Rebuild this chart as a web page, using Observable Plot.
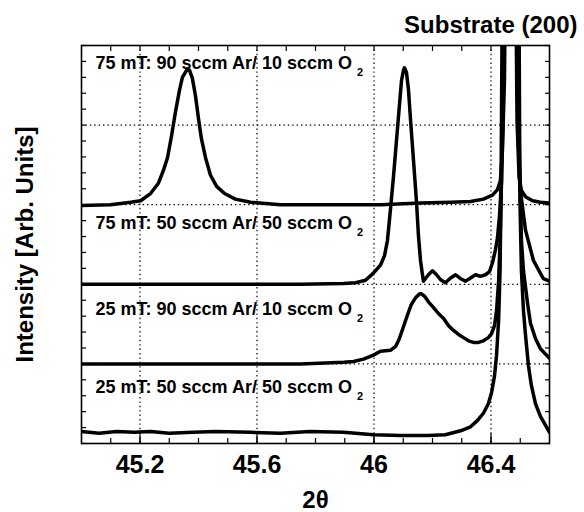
<!DOCTYPE html>
<html><head><meta charset="utf-8">
<script src="https://cdn.jsdelivr.net/npm/d3@7"></script>
<script src="https://cdn.jsdelivr.net/npm/@observablehq/plot@0.6"></script>
<style>
body{margin:0;background:#fff;}
svg{font-family:"Liberation Sans",Arial,Helvetica,sans-serif;}
</style>
</head><body><div id="chart"></div>
<script>
// Series names (annotation text; subscript "2" appended after render)
const seriesLabels = [
  "75 mT: 90 sccm Ar/ 10 sccm O",
  "75 mT: 50 sccm Ar/ 50 sccm O",
  "25 mT: 90 sccm Ar/ 10 sccm O",
  "25 mT: 50 sccm Ar/ 50 sccm O"
];
const labelX = [45.048, 45.048, 45.048, 45.048];
const labelY = [4.71, 2.70, 1.62, 0.64];

// 75 mT: 90/10
const x1 = [45.000,45.099,45.168,45.202,45.236,45.263,45.280,45.294,45.308,45.321,45.335,45.345,45.356,45.362,45.369,45.379,45.390,45.400,45.410,45.424,45.441,45.462,45.489,45.526,45.578,45.680,45.817,46.022,46.159,46.262,46.330,46.374,46.405,46.422,46.432,46.439,46.446,46.448,46.467,46.486,46.489,46.496,46.504,46.518,46.542,46.569,46.600];
const y1 = [2.99,3.00,3.03,3.05,3.14,3.27,3.43,3.59,3.87,4.16,4.44,4.60,4.67,4.70,4.69,4.59,4.36,4.08,3.83,3.59,3.37,3.23,3.14,3.07,3.03,3.00,3.00,3.00,3.02,3.03,3.04,3.07,3.12,3.19,3.30,3.68,4.56,5.31,8.0,5.31,4.06,3.34,3.18,3.10,3.05,3.03,3.02];

// 75 mT: 50/50
const x2 = [45.000,45.400,45.750,45.896,45.937,45.971,45.998,46.022,46.036,46.046,46.056,46.067,46.077,46.087,46.094,46.101,46.104,46.111,46.118,46.125,46.135,46.145,46.152,46.159,46.166,46.169,46.186,46.200,46.214,46.227,46.244,46.262,46.279,46.296,46.313,46.330,46.347,46.364,46.381,46.395,46.405,46.415,46.422,46.429,46.436,46.441,46.444,46.467,46.489,46.492,46.499,46.518,46.545,46.579,46.600];
const y2 = [2.00,2.00,2.00,2.01,2.02,2.05,2.14,2.24,2.36,2.55,2.93,3.37,3.81,4.25,4.56,4.69,4.72,4.66,4.44,4.06,3.56,3.05,2.61,2.30,2.11,2.04,2.12,2.17,2.12,2.06,2.02,2.08,2.12,2.07,2.04,2.08,2.12,2.10,2.12,2.16,2.27,2.43,2.58,2.86,3.30,4.06,5.31,8.0,5.31,4.06,3.22,2.68,2.30,2.07,2.04];

// 25 mT: 90/10
const x3 = [45.000,45.407,45.749,45.896,45.930,45.964,45.998,46.022,46.056,46.074,46.087,46.101,46.115,46.128,46.142,46.156,46.162,46.173,46.186,46.203,46.221,46.238,46.255,46.272,46.289,46.306,46.323,46.340,46.357,46.374,46.391,46.402,46.412,46.419,46.426,46.431,46.436,46.439,46.441,46.467,46.492,46.497,46.504,46.511,46.525,46.535,46.552,46.569,46.600];
const y3 = [1.00,1.00,1.00,1.02,1.03,1.06,1.11,1.16,1.17,1.22,1.32,1.47,1.62,1.75,1.83,1.88,1.88,1.85,1.78,1.71,1.63,1.57,1.48,1.42,1.37,1.33,1.29,1.27,1.27,1.29,1.33,1.38,1.48,1.67,2.04,2.55,3.30,4.31,5.31,8.0,5.31,3.68,2.55,2.17,1.76,1.51,1.32,1.19,1.07];

// 25 mT: 50/50
const x4 = [45.000,45.060,45.120,45.180,45.236,45.300,45.380,45.460,45.578,45.680,45.780,45.896,45.998,46.091,46.183,46.244,46.296,46.330,46.354,46.374,46.391,46.402,46.412,46.419,46.426,46.431,46.434,46.438,46.467,46.496,46.499,46.504,46.511,46.518,46.528,46.538,46.552,46.569,46.586,46.600];
const y4 = [0.15,0.13,0.15,0.14,0.15,0.13,0.14,0.15,0.14,0.13,0.15,0.14,0.11,0.10,0.10,0.11,0.16,0.21,0.29,0.38,0.50,0.64,0.85,1.11,1.55,2.17,3.05,5.31,8.0,5.31,3.05,2.17,1.67,1.36,0.98,0.73,0.50,0.34,0.23,0.14];

const xTickLabels = [45.2, 45.6, 46, 46.4];
const gridYValues = [1, 2, 3, 4];
const title = "Substrate (200)";
const xLabel = "2θ";
const yLabel = "Intensity [Arb. Units]";

const seriesX = [x1, x2, x3, x4];
const seriesY = [y1, y2, y3, y4];
const rows = [];
seriesX.forEach((xs, s) => xs.forEach((x, i) => rows.push({x, y: seriesY[s][i], s})));

const xMinor = d3.range(1, 16).map(i => +(45 + i * 0.1).toFixed(1));
const yMinor = d3.range(0, 26).map(i => +(i * 0.2).toFixed(1));
const blank = () => "";
const dots = {stroke: "black", strokeOpacity: 1, strokeWidth: 1.2, strokeDasharray: "1.4,3"};

const chart = Plot.plot({
  width: 584, height: 512,
  marginLeft: 81, marginRight: 35, marginTop: 45, marginBottom: 69,
  x: {domain: [45, 46.6]},
  y: {domain: [0, 5]},
  style: {background: "white", fontFamily: '"Liberation Sans",Arial,Helvetica,sans-serif', color: "black"},
  marks: [
    Plot.gridX(xTickLabels, dots),
    Plot.gridY(gridYValues, dots),
    Plot.axisX(xMinor, {anchor: "bottom", tickSize: 5, dy: -5, tickFormat: blank, label: null, strokeWidth: 1.2}),
    Plot.axisX(xTickLabels, {anchor: "bottom", tickSize: 10, dy: -10, tickFormat: blank, label: null, strokeWidth: 1.2}),
    Plot.axisX(xMinor, {anchor: "top", tickSize: 5, dy: 5, tickFormat: blank, label: null, strokeWidth: 1.2}),
    Plot.axisY(yMinor, {anchor: "left", tickSize: 5, dx: 5, tickFormat: blank, label: null, strokeWidth: 1.2}),
    Plot.axisY(yMinor, {anchor: "right", tickSize: 5, dx: -5, tickFormat: blank, label: null, strokeWidth: 1.2}),
    Plot.axisX(xTickLabels, {anchor: "bottom", tickSize: 0, tickPadding: 12, label: null, fontSize: 25, fontWeight: "bold", tickFormat: d => String(d)}),
    Plot.line(rows, {x: "x", y: "y", z: "s", stroke: "black", strokeWidth: 3.5, strokeLinejoin: "round", clip: true}),
    Plot.frame({stroke: "black", strokeWidth: 1.6}),
    Plot.text(seriesLabels, {x: (d, i) => labelX[i], y: (d, i) => labelY[i], text: d => d, textAnchor: "start", lineAnchor: "bottom", fontSize: 18, fontWeight: "bold", fill: "black"}),
    Plot.text([title], {frameAnchor: "top-right", dx: 28, dy: -13, textAnchor: "end", lineAnchor: "bottom", fontSize: 24, fontWeight: "bold"}),
    Plot.text([xLabel], {frameAnchor: "bottom", dy: 57, textAnchor: "middle", lineAnchor: "middle", fontSize: 24, fontWeight: "bold"}),
    Plot.text([yLabel], {frameAnchor: "left", dx: -56, rotate: -90, textAnchor: "middle", lineAnchor: "middle", fontSize: 24, fontWeight: "bold"})
  ]
});
document.getElementById("chart").appendChild(chart);

// subscript "2" for O2
d3.select(chart).selectAll("text").each(function() {
  if (/sccm O$/.test(this.textContent)) {
    d3.select(this).append("tspan").attr("dx", 5).attr("dy", 7).attr("font-size", 11).text("2");
  }
});
</script>
</body></html>
